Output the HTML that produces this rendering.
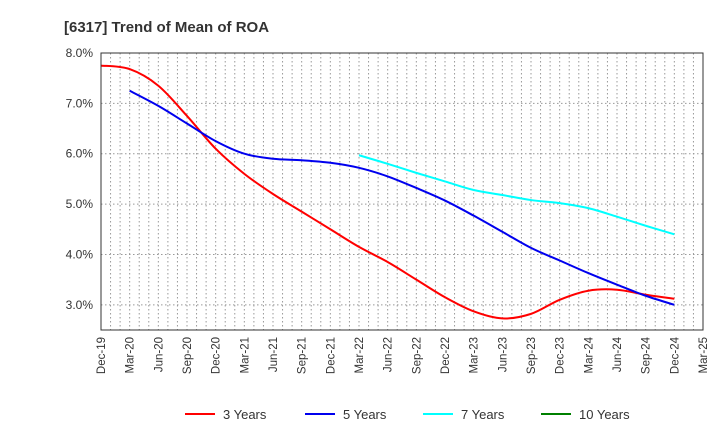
<!DOCTYPE html>
<html><head><meta charset="utf-8"><style>
body{margin:0;background:#fff;font-family:"Liberation Sans",Arial,sans-serif}
svg text{font-family:"Liberation Sans",Arial,sans-serif}
</style></head><body>
<svg id="c" width="720" height="440">
<text x="64" y="32" font-size="15" font-weight="bold" fill="#333">[6317]  Trend of Mean of ROA</text>
<g id="grid"></g><g id="series"></g><g id="axes"></g><g id="legend"></g>
</svg>
<script>
const xLabels=["Dec-19","Mar-20","Jun-20","Sep-20","Dec-20","Mar-21","Jun-21","Sep-21","Dec-21","Mar-22","Jun-22","Sep-22","Dec-22","Mar-23","Jun-23","Sep-23","Dec-23","Mar-24","Jun-24","Sep-24","Dec-24","Mar-25"];
const yTicks=[3,4,5,6,7,8];
const s3=[7.75,7.68,7.35,6.75,6.1,5.6,5.2,4.85,4.5,4.15,3.85,3.5,3.15,2.87,2.73,2.82,3.1,3.28,3.3,3.2,3.12];
const s3Start=0;
const s5=[7.25,6.95,6.6,6.25,6.0,5.9,5.87,5.82,5.72,5.55,5.32,5.07,4.77,4.45,4.13,3.88,3.63,3.4,3.18,3.0];
const s5Start=1;
const s7=[5.97,5.8,5.62,5.45,5.28,5.18,5.08,5.02,4.92,4.75,4.57,4.4];
const s7Start=9;
const s10=[];
const L=101,R=703,T=53,B=330,yMin=2.5,yMax=8.0;
const X=i=>L+i*(R-L)/(xLabels.length-1);
const Y=v=>B-(v-yMin)/(yMax-yMin)*(B-T);
const NS="http://www.w3.org/2000/svg";
function mk(t,a,p){const e=document.createElementNS(NS,t);for(const k in a)e.setAttribute(k,a[k]);p.appendChild(e);return e;}
const grid=document.getElementById('grid'),axes=document.getElementById('axes'),ser=document.getElementById('series'),leg=document.getElementById('legend');
const nm=(xLabels.length-1)*3;
for(let m=1;m<nm;m++){const x=L+m*(R-L)/nm;const l=mk('line',{x1:x,x2:x,y1:T,y2:B,stroke:'#999','stroke-dasharray':'1.5,2.5','stroke-width':1},grid);

}
yTicks.forEach(v=>{const y=Y(v);const l=mk('line',{x1:L,x2:R,y1:y,y2:y,stroke:'#999','stroke-dasharray':'1.5,2.5'},grid);


const t=mk('text',{x:L-8,y:y+4,'text-anchor':'end','font-size':12,fill:'#333'},axes);t.textContent=v.toFixed(1)+'%';

});
const fr=mk('rect',{x:L,y:T,width:R-L,height:B-T,fill:'none',stroke:'#333','stroke-width':1},axes);


xLabels.forEach((s,i)=>{const x=X(i);const t=mk('text',{x:x+4,y:B+7,'text-anchor':'end','font-size':11.5,fill:'#333',transform:`rotate(-90 ${x+4} ${B+7})`},axes);t.textContent=s;

});
function path(vals,start){const p=vals.map((v,i)=>[X(start+i),Y(v)]);if(p.length<2)return '';let d=`M${p[0][0]},${p[0][1]}`;
for(let i=0;i<p.length-1;i++){const p0=p[i-1]||p[i],p1=p[i],p2=p[i+1],p3=p[i+2]||p2;
d+=` C${p1[0]+(p2[0]-p0[0])/6},${p1[1]+(p2[1]-p0[1])/6} ${p2[0]-(p3[0]-p1[0])/6},${p2[1]-(p3[1]-p1[1])/6} ${p2[0]},${p2[1]}`;}return d;}
[[s3,s3Start,'#ff0000','series-3-years'],[s5,s5Start,'#0000ee','series-5-years'],[s7,s7Start,'#00ffff','series-7-years'],[s10,0,'#008000','series-10-years']].forEach(([v,s,c,n])=>{const d=path(v,s);if(!d)return;
const e=mk('path',{d:d,fill:'none',stroke:c,'stroke-width':2},ser);

});
[['3 Years','#ff0000',185],['5 Years','#0000ee',305],['7 Years','#00ffff',423],['10 Years','#008000',541]].forEach(([s,c,x])=>{const g=mk('g',{},leg);


mk('line',{x1:x,x2:x+30,y1:414,y2:414,stroke:c,'stroke-width':2},g);const t=mk('text',{x:x+38,y:419,'font-size':13,fill:'#333'},g);t.textContent=s;});
</script>
</body></html>
